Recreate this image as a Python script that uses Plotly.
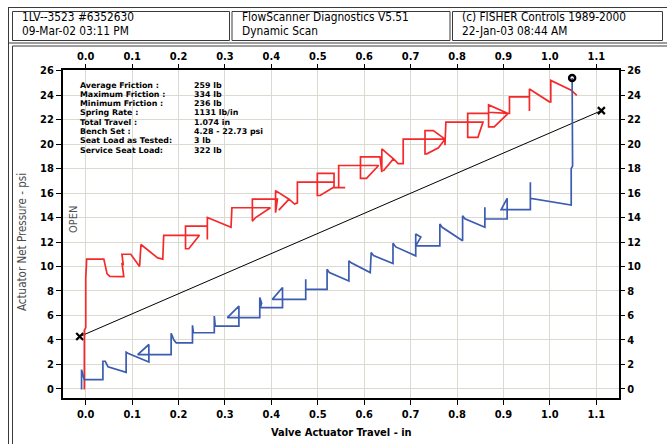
import plotly.graph_objects as go

# ---------------- data ----------------
red_travel = [-0.003, -0.003, 0.000, 0.000, 0.002, 0.039, 0.046, 0.052, 0.082, 0.078,
              0.081, 0.078, 0.097, 0.116, 0.119, 0.155, 0.166, 0.168, 0.245, 0.222,
              0.215, 0.215, 0.262, 0.262, 0.262, 0.313, 0.315, 0.398, 0.366, 0.359,
              0.359, 0.413, 0.409, 0.409, 0.438, 0.416, 0.438, 0.450, 0.456, 0.456,
              0.499, 0.499, 0.535, 0.535, 0.505, 0.499, 0.499, 0.535, 0.535, 0.559,
              0.545, 0.545, 0.631, 0.605, 0.592, 0.592, 0.634, 0.638, 0.638, 0.663,
              0.641, 0.663, 0.673, 0.684, 0.684, 0.774, 0.760, 0.735, 0.731, 0.731,
              0.749, 0.774, 0.774, 0.776, 0.856, 0.845, 0.823, 0.823, 0.868, 0.868,
              0.880, 0.910, 0.868, 0.868, 0.910, 0.913, 0.913, 0.956, 0.956, 0.956,
              0.999, 1.002, 1.002, 1.046, 1.058]
red_pressure = [-0.05, 4.8, 5.0, 9.0, 10.6, 10.6, 9.4, 9.2, 9.18, 10.3,
                10.1, 11.0, 11.0, 10.0, 11.8, 10.7, 10.6, 12.55, 12.55, 11.45,
                11.45, 13.3, 13.3, 12.2, 14.0, 13.2, 14.8, 14.8, 14.0, 13.7,
                15.5, 15.5, 14.4, 16.2, 15.5, 14.6, 15.5, 15.1, 15.2, 16.9,
                16.9, 17.6, 17.6, 16.5, 15.8, 15.8, 16.9, 16.9, 16.45, 16.45,
                16.45, 18.25, 18.25, 17.2, 17.2, 18.95, 18.95, 17.7, 19.6, 18.8,
                17.8, 18.8, 18.4, 18.4, 20.4, 20.4, 19.7, 19.2, 19.2, 21.1,
                21.1, 20.4, 19.9, 21.8, 21.8, 20.55, 20.55, 22.5, 22.5, 21.4,
                21.4, 22.5, 23.2, 22.6, 22.5, 22.5, 23.85, 23.85, 22.7, 24.5,
                23.45, 23.45, 25.2, 24.4, 23.98]

blue_travel = [-0.009, -0.009, -0.005, -0.003, 0.037, 0.037, 0.042, 0.048, 0.087, 0.087,
               0.092, 0.134, 0.136, 0.136, 0.112, 0.184, 0.184, 0.190, 0.195, 0.230,
               0.230, 0.232, 0.277, 0.277, 0.279, 0.330, 0.330, 0.305, 0.375, 0.375,
               0.379, 0.376, 0.424, 0.424, 0.402, 0.474, 0.474, 0.474, 0.520, 0.520,
               0.525, 0.567, 0.567, 0.572, 0.613, 0.615, 0.620, 0.662, 0.662, 0.668,
               0.711, 0.711, 0.722, 0.711, 0.763, 0.763, 0.768, 0.812, 0.812, 0.817,
               0.860, 0.860, 0.860, 0.908, 0.908, 0.895, 0.958, 0.958, 0.958, 1.046,
               1.046, 1.049, 1.048]
blue_pressure = [-0.05, 1.58, 1.0, 0.76, 0.76, 2.26, 2.26, 1.8, 1.36, 3.0,
                 2.9, 2.18, 2.2, 3.63, 2.8, 2.8, 4.54, 4.0, 3.77, 3.77,
                 5.2, 4.59, 4.59, 5.95, 5.13, 5.13, 6.77, 5.82, 5.82, 7.46,
                 7.0, 6.64, 6.64, 8.28, 7.32, 7.32, 8.96, 8.14, 8.14, 9.78,
                 9.5, 8.82, 10.46, 10.3, 9.5, 11.15, 10.9, 10.25, 11.9, 11.6,
                 10.87, 12.65, 12.4, 11.69, 11.69, 13.47, 13.2, 12.1, 14.15, 13.9,
                 13.2, 14.84, 13.88, 13.88, 15.57, 14.64, 14.64, 16.88, 15.57, 15.02,
                 18.0, 18.2, 25.4]

bench_travel = [-0.013, 1.111]
bench_pressure = [4.28, 22.73]

end_travel = [1.048]
end_pressure = [25.4]

x_ticks = [0.0, 0.1, 0.2, 0.3, 0.4, 0.5, 0.6, 0.7, 0.8, 0.9, 1.0, 1.1]
x_tick_text = ["0.0", "0.1", "0.2", "0.3", "0.4", "0.5", "0.6", "0.7", "0.8", "0.9", "1.0", "1.1"]
y_ticks = [0, 2, 4, 6, 8, 10, 12, 14, 16, 18, 20, 22, 24, 26]

stats_labels = ["Average Friction :", "Maximum Friction :", "Minimum Friction :",
                "Spring Rate :", "Total Travel :", "Bench Set :",
                "Seat Load as Tested:", "Service Seat Load:"]
stats_values = ["259 lb", "334 lb", "236 lb", "1131 lb/in", "1.074 in",
                "4.28 - 22.73 psi", "3 lb", "322 lb"]

header_cells = [["1LV--3523 #6352630", "09-Mar-02 03:11 PM"],
                ["FlowScanner Diagnostics V5.51", "Dynamic Scan"],
                ["(c) FISHER Controls 1989-2000", "22-Jan-03 08:44 AM"]]

# ---------------- layout helpers ----------------
W, H = 667, 444
L, R, T, B = 63, 48, 70, 46
PW, PH = W - L - R, H - T - B


def px(xp):
    return (xp - L) / PW


def py(yp):
    return (H - B - yp) / PH


FONT = "Tahoma, 'DejaVu Sans Condensed', 'DejaVu Sans', sans-serif"
STAT_FONT = "'DejaVu Sans', sans-serif"
X_RANGE = [-0.049, 1.149]
Y_RANGE = [-0.74, 26.05]

fig = go.Figure()

fig.add_trace(go.Scatter(x=bench_travel, y=bench_pressure, mode="lines+markers",
                         line=dict(color="black", width=1),
                         marker=dict(symbol="x-thin-open", size=7, color="black",
                                     line=dict(color="black", width=2.2)),
                         hoverinfo="skip", showlegend=False))
fig.add_trace(go.Scatter(x=red_travel, y=red_pressure, mode="lines",
                         line=dict(color="#f42a2a", width=1.7),
                         hoverinfo="skip", showlegend=False))
fig.add_trace(go.Scatter(x=blue_travel, y=blue_pressure, mode="lines",
                         line=dict(color="#3b5cb0", width=1.7),
                         hoverinfo="skip", showlegend=False))
fig.add_trace(go.Scatter(x=end_travel, y=end_pressure, mode="markers",
                         marker=dict(symbol="circle-open", size=6, color="black",
                                     line=dict(color="black", width=2.5)),
                         hoverinfo="skip", showlegend=False))
# invisible helper trace for the mirrored (top / right) axes
fig.add_trace(go.Scatter(x=bench_travel, y=bench_pressure, xaxis="x2", yaxis="y2",
                         mode="lines", line=dict(width=0), opacity=0,
                         hoverinfo="skip", showlegend=False))

tickfont = dict(family=FONT, size=11, color="black", weight="bold")
fig.update_layout(
    width=W, height=H,
    margin=dict(l=L, r=R, t=T, b=B, pad=0),
    paper_bgcolor="white", plot_bgcolor="white",
    xaxis=dict(range=X_RANGE, tickvals=x_ticks, ticktext=x_tick_text,
               showgrid=True, gridcolor="#dcd9d1", gridwidth=1,
               showline=True, linecolor="black", linewidth=2, mirror=True,
               ticks="outside", ticklen=5, tickwidth=1, tickcolor="black",
               tickfont=tickfont, zeroline=False, fixedrange=True),
    yaxis=dict(range=Y_RANGE, tickvals=y_ticks,
               showgrid=True, gridcolor="#dcd9d1", gridwidth=1,
               showline=True, linecolor="black", linewidth=2, mirror=True,
               ticks="outside", ticklen=5, tickwidth=1, tickcolor="black",
               tickfont=tickfont, zeroline=False, fixedrange=True),
    xaxis2=dict(range=X_RANGE, tickvals=x_ticks, ticktext=x_tick_text,
                overlaying="x", side="top", showgrid=False, zeroline=False,
                ticks="outside", ticklen=5, tickwidth=1, tickcolor="black",
                tickfont=tickfont, fixedrange=True),
    yaxis2=dict(range=Y_RANGE, tickvals=y_ticks,
                overlaying="y", side="right", showgrid=False, zeroline=False,
                ticks="outside", ticklen=5, tickwidth=1, tickcolor="black",
                tickfont=tickfont, fixedrange=True),
)

shapes = []
line_col = "#3a3a3a"


def hline(x0, x1, y, w=1):
    shapes.append(dict(type="line", xref="paper", yref="paper",
                       x0=px(x0), x1=px(x1), y0=py(y), y1=py(y),
                       line=dict(color=line_col, width=w)))


def vline(x, y0, y1, w=1):
    shapes.append(dict(type="line", xref="paper", yref="paper",
                       x0=px(x), x1=px(x), y0=py(y0), y1=py(y1),
                       line=dict(color=line_col, width=w)))


# outer frame
hline(8, 667, 7.5)
vline(8.5, 7.5, 444)
# header cells
cells = [(12.5, 229.5), (232, 450), (452.5, 662.5)]
for (a, b) in cells:
    hline(a, b, 11.5)
    hline(a, b, 40.5)
    vline(a, 11.5, 40.5)
    vline(b, 11.5, 40.5)
hline(8.5, 667, 43)
# chart panel
hline(12.5, 667, 46)
vline(12.5, 46, 444)

fig.update_layout(shapes=shapes)

ann = []
text_x = [20, 240, 460]
for cx, (l1, l2) in zip(text_x, header_cells):
    for ty, t in ((17, l1), (31.5, l2)):
        ann.append(dict(xref="paper", yref="paper", x=px(cx), y=py(ty),
                        text=t, showarrow=False, xanchor="left", yanchor="middle",
                        font=dict(family=FONT, size=11.8, color="black")))

for i, (lab, val) in enumerate(zip(stats_labels, stats_values)):
    yy = 85 + i * 9.3
    for xx, txt in ((79, lab), (193, val)):
        ann.append(dict(xref="paper", yref="paper", x=px(xx), y=py(yy), text=txt,
                        showarrow=False, xanchor="left", yanchor="middle",
                        borderpad=0,
                        font=dict(family=STAT_FONT, size=7.9, color="black",
                                  weight="bold")))

ann.append(dict(xref="paper", yref="paper", x=px(73), y=py(220), text="OPEN",
                textangle=-90, showarrow=False, xanchor="center", yanchor="middle",
                font=dict(family=FONT, size=11, color="#555555")))
ann.append(dict(xref="paper", yref="paper", x=px(22), y=py(242),
                text="Actuator Net Pressure - psi", textangle=-90, showarrow=False,
                xanchor="center", yanchor="middle",
                font=dict(family=FONT, size=11.5, color="#4a4a4a")))
ann.append(dict(xref="paper", yref="paper", x=px(341), y=py(432),
                text="Valve Actuator Travel - in", showarrow=False,
                xanchor="center", yanchor="middle",
                font=dict(family=FONT, size=11, color="black", weight="bold")))

fig.update_layout(annotations=ann)

fig.write_html("out.html")
